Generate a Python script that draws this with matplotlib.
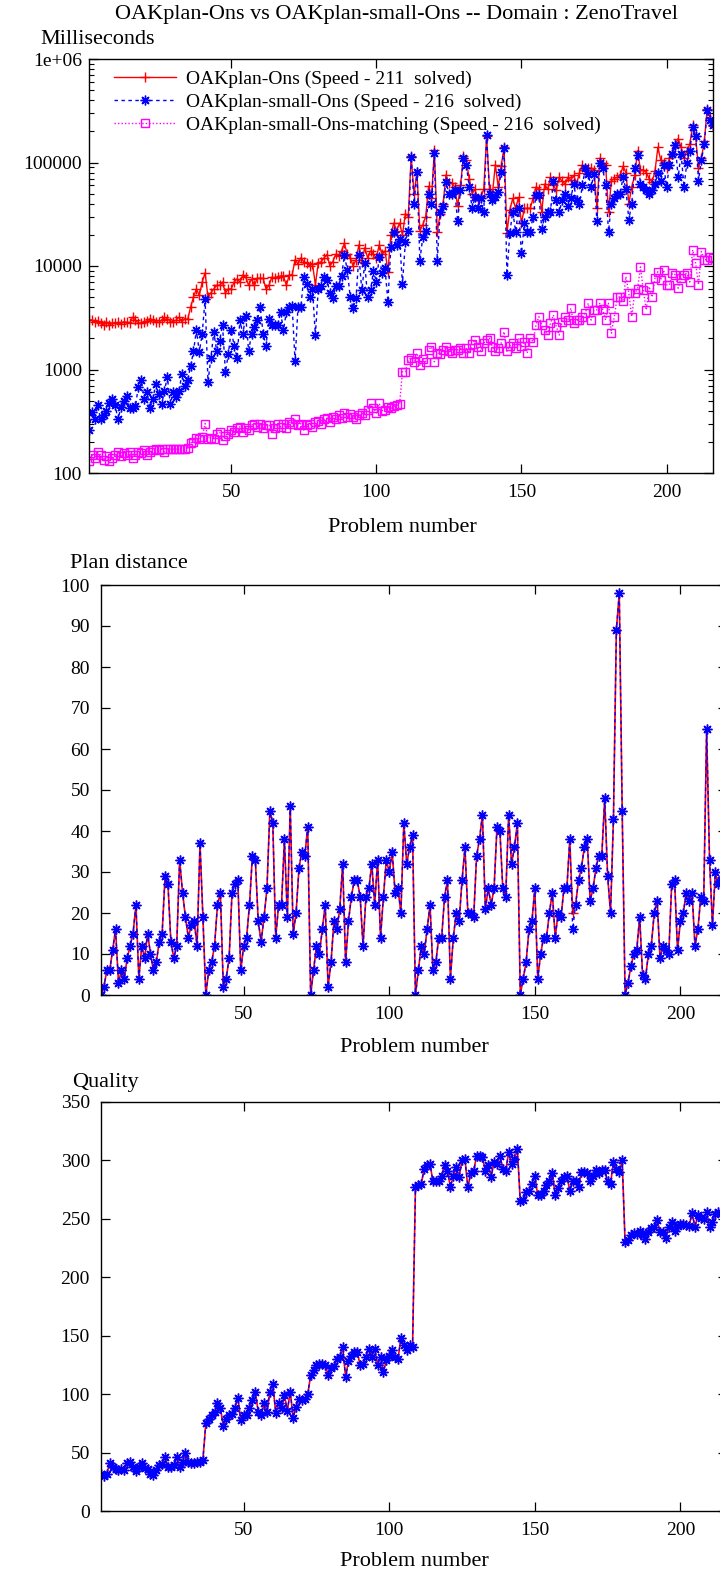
import numpy as np
import matplotlib
matplotlib.use('Agg')
import matplotlib.pyplot as plt
from matplotlib.ticker import FixedLocator, FixedFormatter, LogLocator, NullFormatter

plt.rcParams['font.family'] = ['Liberation Serif', 'DejaVu Serif']
plt.rcParams['font.size'] = 14

problems = list(range(1, 217))

# ---------------- Speed (milliseconds) ----------------
speed_ons_ms = [
    3000, 3000, 2900, 2950, 2800, 2700, 2900, 2700, 2800, 2800,
    2850, 2750, 2900, 2850, 2800, 3200, 3000, 2800, 2800, 2900,
    2950, 3100, 3000, 2900, 2850, 3000, 3200, 3100, 2900, 2900,
    3000, 3200, 2900, 3100, 3050,
    4000, 5000, 6000, 5200, 7000, 8600, 5000, 5500, 6000, 6500,
    6500, 7000, 5500, 6000, 6000, 7000, 7500, 7000, 8200, 7800,
    6500, 7500, 6500, 7600, 7600, 7600, 6000, 6500, 7800, 7600,
    7800, 8000, 8000, 6500, 8200, 8200, 11500, 10500,
    12000, 11000, 10700, 10000, 10500, 6600, 10700, 11000, 12000, 12900,
    10000, 11000, 13000, 12500, 14000, 16500, 13000, 12000, 10000, 11500,
    16000, 11000, 15000, 12000, 14000, 13000, 12000, 16000, 13000, 14000,
    8800, 20000, 26000, 22000, 26000, 20000, 32000, 30000, 115000, 50000,
    81000, 22000, 25000, 30000, 59000, 45000, 132000, 21500, 32000, 40000,
    76000, 63000, 63000, 58000, 38000, 60000, 115000, 105000, 70000, 50000,
    55000, 43000, 47000, 55000, 180000, 55000, 50000, 95000, 58000, 92000,
    140000, 21000, 35000, 45000, 36000, 46000, 26000,
    36000, 36000, 36000, 45000, 58000, 56000, 33500, 62000, 55000, 72000,
    60000, 54000, 72000, 66000, 62000, 72000, 68000, 75000, 62000, 80000,
    95000, 85000, 88000, 88000, 85000, 36000, 110000, 100000, 95000, 33000,
    67000, 70000, 72000, 75000, 92000, 80000, 40000, 58000, 75000, 130000,
    85000, 85000, 80000, 70000, 65000, 82000, 140000, 105000, 100000, 88000,
    110000, 120000, 147000, 170000, 140000, 110000, 130000, 150000, 230000, 180000,
    88000, 110000, 160000, 330000, 270000, 225000]

speed_small_ms = [
    260, 390, 330, 450, 330, 360, 400, 470, 520, 450,
    330, 430, 500, 550, 420, 420, 440, 680, 790, 520,
    600, 420, 520, 720, 580, 460, 620, 850, 460, 600,
    540, 620, 900, 700, 800,
    1070, 1500, 2400, 1480, 2200, 4800, 760, 1300, 2300, 1500,
    1900, 2700, 950, 1400, 2400, 1700, 1300, 3000, 2200, 3300,
    1500, 2200, 2600, 3000, 4000, 2200, 1700, 3100, 2700, 2700,
    2700, 3600, 2400, 3600, 4000, 4100, 1200, 4000,
    4000, 7900, 6700, 5000, 6000, 2150, 6000, 6400, 7900, 7400,
    5500, 4870, 6400, 6400, 8000, 12700, 9100, 5000, 3900, 4870,
    12700, 5800, 10600, 5000, 5800, 9000, 7000, 12300, 8500, 9500,
    4500, 15400, 21500, 16000, 18400, 6700, 17000, 22000, 114000, 40000,
    81000, 11300, 19000, 22000, 50000, 40000, 123000, 11300, 33000, 38000,
    65000, 50000, 50000, 54000, 27000, 54000, 110000, 95000, 58000, 36000,
    46000, 36000, 45000, 33000, 185000, 50000, 43000, 46000, 52000, 81000,
    137000, 8200, 21000, 33500, 21500, 36000, 13300,
    26000, 21500, 21500, 30000, 48000, 48000, 23000, 30000, 33500, 33500,
    67000, 43000, 33000, 43000, 50000, 38000, 45000, 62000, 43000, 40000,
    60000, 88000, 78000, 58000, 78000, 27000, 98000, 88000, 60000, 21500,
    40000, 45000, 50000, 50000, 72000, 55000, 28000, 40000, 88000, 118000,
    62000, 58000, 54000, 50000, 54000, 62000, 79000, 67000, 95000, 58000,
    95000, 120000, 147000, 72000, 122000, 58000, 100000, 130000, 222000, 180000,
    67000, 105000, 150000, 320000, 260000, 230000]

speed_matching_ms = [
    130, 150, 140, 160, 150, 135, 145, 130, 140, 150,
    160, 145, 155, 150, 160, 140, 150, 160, 155, 165,
    150, 160, 165, 170, 165, 170, 160, 170, 170, 170,
    170, 170, 170, 170, 175,
    195, 200, 220, 215, 225, 300, 215, 220, 215, 240,
    250, 210, 230, 240, 260, 250, 270, 280, 250, 270,
    260, 290, 300, 280, 300, 270, 290, 290, 240, 270,
    300, 280, 300, 270, 310, 300, 330, 290, 300,
    260, 290, 300, 280, 310, 320, 300, 330, 340, 310,
    350, 330, 360, 340, 380, 350, 370, 350, 330, 360,
    380, 360, 410, 470, 420, 380, 470, 400, 410, 430,
    420, 440, 450, 460,
    950, 950, 1230, 1300, 1190, 1440, 1100, 1250, 1190, 1550,
    1660, 1190, 1450, 1400, 1550, 1660, 1500, 1450, 1550, 1550,
    1600, 1450, 1600, 1450, 1750, 1930, 1660, 1500, 1800, 1930,
    2000, 1650, 1500, 1600, 1800, 2320, 1500, 1700, 1800, 1600,
    2000, 1700,
    1850, 1440, 2000, 1850, 2690, 3240, 2700, 2400, 2150, 2800,
    3360, 2600, 2150, 2900, 3240, 3000, 3900, 2800, 3000, 3000,
    3240, 3500, 4360, 3000, 3760, 3760, 4360, 3800, 3000, 4360,
    2240, 3240, 5030, 5030, 4600, 7900, 5450, 3240, 5450, 6000,
    9800, 5870, 3760, 6330, 5000, 7600, 8800, 7330, 9130, 6570,
    6570, 8500, 8200, 6100, 7600, 8200, 8500, 7000, 14300, 10700,
    6570, 13800, 11500, 11500, 12300, 12000]

# ---------------- Plan distance ----------------
dist_small = [
    0, 2, 6, 6, 11, 16, 3, 6, 4, 9,
    12, 15, 22, 4, 12, 9, 15, 10, 6, 8,
    13, 15, 29, 27, 13, 9, 12, 33, 25, 19,
    14, 17, 18, 12, 37, 19, 0, 6, 8, 12,
    22, 25, 2, 4, 9, 25, 27, 28, 6, 12,
    14, 22, 34, 33,
    18, 13, 19, 26, 45, 42, 14, 22, 22, 38, 19, 46, 15, 20, 31, 35, 34, 41,
    0, 6, 12, 10, 16, 22, 2, 8, 18, 16,
    21, 32, 8, 18, 24, 28, 28, 24, 12, 24,
    26, 32, 22, 33, 14, 24, 33, 30, 35, 25,
    26, 20, 42, 32, 36, 39, 0, 6, 12, 10,
    16, 22, 6, 8, 14, 14, 24, 28, 4, 14,
    20, 18, 28, 36, 20, 20, 19, 34, 38, 44,
    21, 26, 22, 26, 41, 40, 26, 24, 44, 32,
    36, 42, 0,
    4, 8, 16, 18, 26, 4, 10, 14, 14, 20,
    25, 14, 20, 19, 26, 26, 38, 16, 22, 28,
    31, 36, 38, 23, 26, 31, 34, 34, 48, 29,
    20, 43, 89, 98, 45, 0, 3, 7, 10, 11,
    19, 5, 4, 10, 12, 20, 23, 9, 12, 11,
    10, 27, 28, 11, 18, 20, 25, 23, 25, 12,
    16, 24, 23, 65, 33, 17, 30, 27, 28, 29,
    27]

dist_ons = [
    0, 2, 6, 6, 11, 16, 3, 6, 4, 9,
    12, 15, 22, 4, 12, 9, 15, 10, 6, 8,
    13, 15, 29, 27, 13, 9, 12, 33, 25, 19,
    14, 17, 18, 12, 37, 19, 0, 6, 8, 12,
    22, 25, 2, 4, 9, 25, 27, 28, 6, 12,
    14, 22, 34, 33,
    18, 13, 19, 26, 45, 42, 14, 22, 22, 38, 19, 46, 15, 20, 31, 35, 34, 41,
    0, 6, 12, 10, 16, 22, 2, 8, 18, 16,
    21, 32, 8, 18, 24, 28, 28, 24, 12, 24,
    26, 32, 22, 33, 14, 24, 33, 30, 35, 25,
    26, 20, 42, 32, 36, 39, 0, 6, 12, 10,
    16, 22, 6, 8, 14, 14, 24, 28, 4, 14,
    20, 18, 28, 36, 20, 20, 19, 34, 38, 44,
    21, 26, 22, 26, 41, 40, 26, 24, 44, 32,
    36, 42, 0,
    4, 8, 16, 18, 26, 4, 10, 14, 14, 20,
    25, 14, 20, 19, 26, 26, 38, 20, 22, 28,
    31, 36, 38, 23, 26, 31, 34, 34, 48, 29,
    20, 43, 89, 98, 45, 0, 3, 7, 10, 11,
    19, 5, 4, 10, 12, 20, 23, 9, 12, 11,
    10, 27, 28, 11, 18, 20, 25, 23, 25, 12,
    16, 24, 23, 65, 33, 17, 30, 27, 28, 29,
    27]

# ---------------- Quality ----------------
quality_ons = [
    32, 30, 32, 41, 38, 36, 35, 36, 35, 41,
    42, 38, 34, 38, 41, 37, 36, 32, 31, 35,
    39, 40, 46, 38, 38, 39, 46, 38, 42, 50,
    42, 41, 41, 42, 42, 44,
    75, 79, 82, 85, 92, 88, 73, 79, 82, 83,
    88, 97, 78, 82, 82, 88, 95, 102, 85, 82,
    92, 85, 102, 109, 84, 92, 88, 99, 86, 102,
    80, 89, 96, 95, 96, 100,
    116, 121, 125, 126, 126, 125, 116, 122, 124, 130,
    132, 140, 115, 128, 133, 136, 136, 125, 126, 132,
    139, 132, 139, 125, 132, 119, 129, 133, 138, 132,
    130, 148, 142, 138, 142, 140,
    277, 279, 280, 293, 296, 297, 282, 282, 282, 287,
    296, 291, 277, 287, 294, 286, 300, 301, 277, 289,
    291, 304, 304, 303, 291, 296, 286, 299, 297, 304,
    293, 291, 307, 297, 301, 310, 265,
    266, 273, 274, 280, 287, 270, 270, 274, 279, 282,
    289, 270, 276, 282, 286, 287, 274, 282, 282, 277,
    290, 290, 289, 282, 287, 292, 289, 292, 292, 282,
    280, 299, 293, 290, 300, 230, 232, 236, 238, 237,
    240, 236, 233, 239, 242, 243, 249, 239, 239, 234,
    243, 247, 240, 244, 246, 246, 245, 244, 255, 243,
    253, 251, 250, 256, 243, 247, 254, 256, 255, 258,
    257]
quality_small = quality_ons

labels_speed = ['OAKplan-Ons (Speed - 211  solved)',
                'OAKplan-small-Ons (Speed - 216  solved)',
                'OAKplan-small-Ons-matching (Speed - 216  solved)']

RED = '#ff0000'
BLUE = '#0000ff'
MAG = '#ff00ff'
STAR = (8, 2, 0)

W, H = 720, 1577
fig = plt.figure(figsize=(W / 100, H / 100), dpi=100)


def axes_px(left, top, right, bottom):
    return fig.add_axes([left / W, (H - bottom) / H, (right - left) / W, (bottom - top) / H])


def style_axes(ax):
    for s in ax.spines.values():
        s.set_linewidth(1.0)
    ax.tick_params(which='major', direction='in', length=6.5, width=0.9,
                   top=True, right=True, labelsize=14)
    ax.tick_params(which='minor', direction='in', length=3.5, width=0.8,
                   top=True, right=True)
    ax.tick_params(axis='y', pad=5)
    ax.tick_params(axis='x', pad=8)
    ax.set_xlim(1, 216)
    ax.xaxis.set_major_locator(FixedLocator([50, 100, 150, 200]))


# ---- top panel ----
ax1 = axes_px(89, 59, 713, 473)
ax1.plot(problems, speed_ons_ms, color=RED, lw=1.0, marker='+', ms=7, mew=1.0,
         label=labels_speed[0])
ax1.plot(problems, speed_small_ms, color=BLUE, lw=1.0, ls=(0, (2.5, 2.5)), marker=STAR,
         ms=7, mew=1.0, label=labels_speed[1])
ax1.plot(problems, speed_matching_ms, color=MAG, lw=1.0, ls=(0, (1, 1.5)), marker='s',
         ms=6, mew=1.0, mfc='none', label=labels_speed[2])
ax1.set_yscale('log')
ax1.set_ylim(100, 1e6)
ax1.yaxis.set_major_locator(FixedLocator([100, 1000, 10000, 100000, 1000000]))
ax1.yaxis.set_major_formatter(FixedFormatter(['100', '1000', '10000', '100000', '1e+06']))
ax1.yaxis.set_minor_locator(LogLocator(base=10, subs=range(2, 10)))
ax1.yaxis.set_minor_formatter(NullFormatter())
style_axes(ax1)
ax1.legend(loc='upper left', bbox_to_anchor=(0.04, 0.973), frameon=False,
           handlelength=3.2, handletextpad=0.5, labelspacing=0.28, borderpad=0,
           borderaxespad=0, numpoints=1, fontsize=14)

# ---- middle panel ----
ax2 = axes_px(101, 585, 727, 995)
ax2.plot(problems, dist_ons, color=RED, lw=1.2, marker='+', ms=7, mew=1.0)
ax2.plot(problems, dist_small, color=BLUE, lw=1.0, ls=(0, (2.5, 2.5)), marker=STAR,
         ms=7, mew=1.0)
ax2.set_ylim(0, 100)
ax2.yaxis.set_major_locator(FixedLocator(list(range(0, 101, 10))))
style_axes(ax2)
ax2.tick_params(axis='y', pad=8)

# ---- bottom panel ----
ax3 = axes_px(101, 1102, 727, 1511)
ax3.plot(problems, quality_ons, color=RED, lw=1.2, marker='+', ms=7, mew=1.0)
ax3.plot(problems, quality_small, color=BLUE, lw=1.0, ls=(0, (2.5, 2.5)), marker=STAR,
         ms=7, mew=1.0)
ax3.set_ylim(0, 350)
ax3.yaxis.set_major_locator(FixedLocator(list(range(0, 351, 50))))
style_axes(ax3)
ax3.tick_params(axis='y', pad=8)

# ---- texts ----
def ftext(x, y, s, ha='left', size=16):
    fig.text(x / W, 1 - y / H, s, ha=ha, va='center', fontsize=size)

ftext(396, 15, 'OAKplan-Ons vs OAKplan-small-Ons -- Domain : ZenoTravel', ha='center')
ftext(40, 40, 'Milliseconds')
ftext(402, 527, 'Problem number', ha='center')
ftext(70, 564, 'Plan distance')
ftext(414, 1048, 'Problem number', ha='center')
ftext(72, 1083, 'Quality')
ftext(414, 1561, 'Problem number', ha='center')

fig.savefig('out.png', dpi=100)
